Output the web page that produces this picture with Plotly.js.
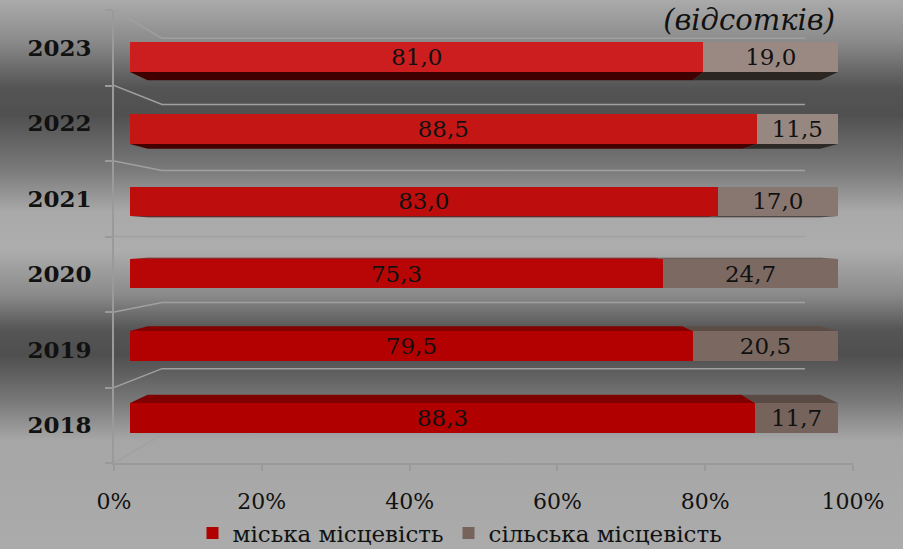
<!DOCTYPE html>
<html>
<head>
<meta charset="utf-8">
<script src="https://cdn.plot.ly/plotly-3.0.1.min.js"></script>
<style>
html,body{margin:0;padding:0;}
body{width:903px;height:549px;overflow:hidden;
background:linear-gradient(to bottom,#aaaaaa 0px,#8c8c8c 40px,#545454 88px,#505050 115px,#7a7a7a 170px,#a9a9a9 212px,#adadad 250px,#8a8a8a 295px,#555555 330px,#4f4f4f 355px,#777777 400px,#a6a6a6 440px,#ababab 549px);}
#chart{width:903px;height:549px;}
</style>
</head>
<body>
<div id="chart"></div>
<script>
// Data
const years = ['2018', '2019', '2020', '2021', '2022', '2023'];
const urban = [88.3, 79.5, 75.3, 83.0, 88.5, 81.0];
const rural = [11.7, 20.5, 24.7, 17.0, 11.5, 19.0];
const seriesNames = ['міська місцевість', 'сільська місцевість'];
const xTicks = [0, 20, 40, 60, 80, 100];
const xTickText = ['0%', '20%', '40%', '60%', '80%', '100%'];
const titleText = '(відсотків)';

const fmt = v => v.toFixed(1).replace('.', ',');
const serif = 'DejaVu Serif, Liberation Serif, serif';

const urbanColors = ['#b00000', '#b30000', '#b80606', '#bd0d0d', '#c51616', '#cc1e1e'];
const ruralColors = ['#76635b', '#7b6860', '#7c6a62', '#887770', '#968780', '#9a8983'];
const urbanFace = ['#7e0000', '#830000', '#800000', '#4a0000', '#440000', '#3e0000'];
const ruralFace = ['#5a4a44', '#5c4d47', '#5a4b45', '#2f2926', '#2d2926', '#2c2623'];
const BAR_W = 0.41;

const traces = [
  // invisible trace to carry the visible axes
  {type: 'scatter', mode: 'markers', x: [0], y: [years[0]], xaxis: 'x2', yaxis: 'y2',
   marker: {opacity: 0}, showlegend: false, hoverinfo: 'skip'},
  {type: 'bar', orientation: 'h', name: seriesNames[0], y: years, x: urban,
   xaxis: 'x', yaxis: 'y', width: BAR_W,
   marker: {color: urbanColors, line: {width: 0}},
   text: urban.map(fmt), textposition: 'inside', insidetextanchor: 'middle',
   textfont: {family: serif, size: 23, color: '#111'}, constraintext: 'none',
   hoverinfo: 'skip'},
  {type: 'bar', orientation: 'h', name: seriesNames[1], y: years, x: rural,
   xaxis: 'x', yaxis: 'y', width: BAR_W,
   marker: {color: ruralColors, line: {width: 0}},
   text: rural.map(fmt), textposition: 'inside', insidetextanchor: 'middle',
   textfont: {family: serif, size: 23, color: '#111'}, constraintext: 'none',
   hoverinfo: 'skip'}
];

const shapes = [];
// perspective grid lines between categories (decoration)
const center = (years.length - 1) / 2;
for (let i = 0; i <= years.length; i++) {
  const b = i - 0.5;
  const bb = center + (b - center) * 0.875;
  shapes.push({type: 'path', xref: 'x2', yref: 'y2',
    path: `M 0 ${b} L 6.5 ${bb} L 93.5 ${bb}`,
    line: {color: '#a0a0a0', width: 1.5}, layer: 'below'});
}
// 3D depth faces of the bars (perspective toward the chart centre)
const S = 0.95, CX = 50;
years.forEach((yr, i) => {
  const side = i > center ? -1 : 1;          // underside for upper rows, top face for lower rows
  const yf = i + side * BAR_W / 2;
  const yb = center + (yf - center) * S;
  const segs = [[0, urban[i], urbanFace[i]], [urban[i], urban[i] + rural[i], ruralFace[i]]];
  segs.forEach(([a, b, col]) => {
    const ab = CX + (a - CX) * S, bb = CX + (b - CX) * S;
    shapes.push({type: 'path', xref: 'x', yref: 'y', layer: 'below',
      path: `M ${a} ${yf} L ${b} ${yf} L ${bb} ${yb} L ${ab} ${yb} Z`,
      fillcolor: col, line: {width: 0}});
  });
});

const layout = {
  width: 903, height: 549,
  margin: {l: 114, r: 50, t: 10, b: 86},
  paper_bgcolor: 'rgba(0,0,0,0)', plot_bgcolor: 'rgba(0,0,0,0)',
  barmode: 'stack',
  showlegend: true,
  title: {text: titleText, x: 835/903, xanchor: 'right', xref: 'container',
          y: 1 - 20/549, yanchor: 'middle', yref: 'container',
          font: {family: serif, size: 29, style: 'italic', color: '#111'}},
  xaxis: {domain: [(130-114)/739, (838-114)/739], range: [0, 100], anchor: 'y',
          showticklabels: false, showgrid: false, zeroline: false, showline: false, fixedrange: true},
  yaxis: {domain: [(463-454)/453, 1 - (21-10)/453], type: 'category', categoryarray: years, range: [-0.5, 5.5],
          anchor: 'x', showticklabels: false, showgrid: false, zeroline: false, showline: false},
  xaxis2: {domain: [0, 1], range: [0, 100], anchor: 'y2',
           tickvals: xTicks, ticktext: xTickText, ticks: 'outside', ticklen: 6, tickwidth: 2,
           tickcolor: '#9a9a9a', showline: true, linecolor: '#9a9a9a', linewidth: 2,
           showgrid: false, zeroline: false, ticklabelstandoff: 12,
           tickfont: {family: serif, size: 22, color: '#111'}},
  yaxis2: {domain: [0, 1], type: 'category', categoryarray: years, range: [-0.5, 5.5],
           anchor: 'x2', ticks: 'outside', ticklen: 7, tickwidth: 2,
           tickcolor: '#9a9a9a', tickson: 'boundaries',
           showline: true, linecolor: '#9a9a9a', linewidth: 2,
           showgrid: false, zeroline: false, ticklabelstandoff: 16,
           tickfont: {family: serif, size: 23, color: '#111', weight: 'bold'}},
  legend: {orientation: 'h', xref: 'container', yref: 'container',
           x: 460/903, xanchor: 'center', y: 1 - 533/549, yanchor: 'middle',
           font: {family: serif, size: 23, color: '#111'}, bgcolor: 'rgba(0,0,0,0)',
           itemsizing: 'constant', traceorder: 'normal'},
  shapes: shapes
};

Plotly.newPlot('chart', traces, layout, {displayModeBar: false, staticPlot: true});
</script>
</body>
</html>
